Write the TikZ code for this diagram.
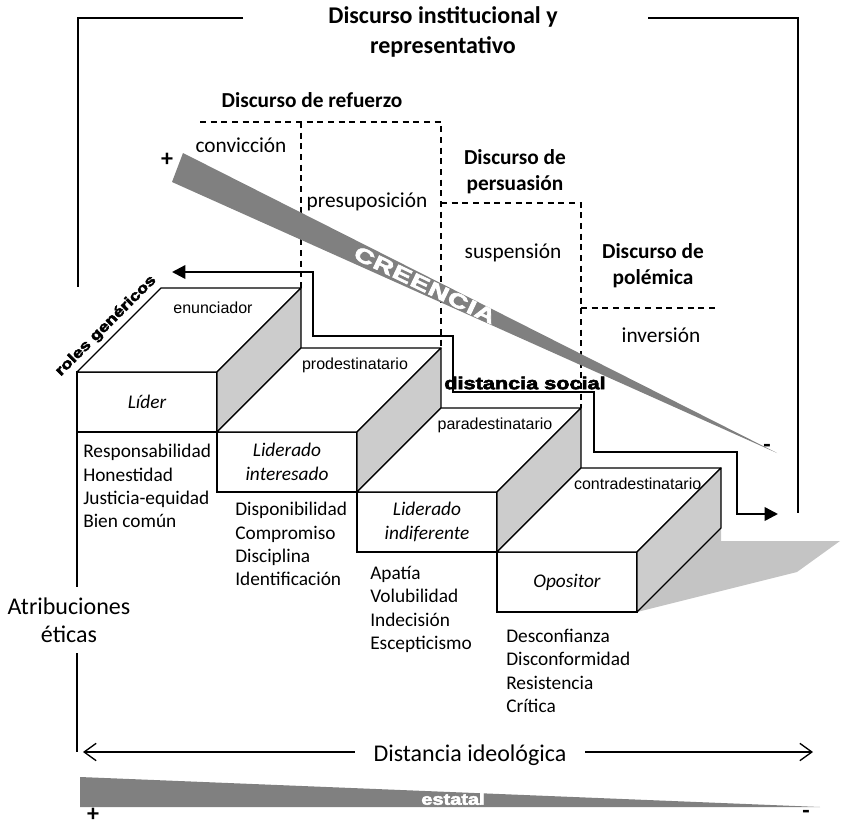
\documentclass[tikz,border=0pt]{standalone}
\usepackage{fontspec}
\setmainfont{Carlito}
\newfontfamily\arialfont{Liberation Sans}
\newfontfamily\blackfont{Liberation Sans}[BoldFeatures={FakeBold=3}]
\usepackage{graphicx}
\usetikzlibrary{arrows.meta, positioning}
\definecolor{sidegray}{gray}{0.8}
\definecolor{wedgegray}{gray}{0.5}
\definecolor{shadowgray}{gray}{0.77}
\tikzstyle{stepfront} = [rectangle, draw, fill=white, line width=1pt, minimum width=105pt,
  minimum height=45pt, inner sep=0pt, outer sep=0pt, align=center,
  font=\itshape\fontsize{14.5}{17.5}\selectfont]
\tikzstyle{stepline} = [line width=1pt, line join=round]
\tikzstyle{roletag} = [inner sep=0pt, font=\arialfont\fontsize{12}{14}\selectfont]
\tikzstyle{attrlist} = [align=left, anchor=north west, inner sep=0pt,
  font=\fontsize{14.5}{17.5}\selectfont]
\tikzstyle{discurso} = [align=center, font=\bfseries\fontsize{16}{19.5}\selectfont]
\tikzstyle{accion} = [font=\fontsize{16}{19}\selectfont]
\tikzstyle{divline} = [line width=0.9pt, dash pattern=on 4.5pt off 3.5pt]
\tikzstyle{frame} = [line width=2.2pt]
\tikzstyle{route} = [line width=1.8pt, line join=miter,
  {Triangle[length=10pt,width=10pt]}-{Triangle[length=10pt,width=10pt]}]
\tikzstyle{ideo} = [line width=1pt, -{Straight Barb[length=9pt,width=13pt]}]
\tikzstyle{heavy} = [inner sep=0pt, font=\blackfont\bfseries]
\tikzstyle{sign} = [inner sep=0pt, font=\bfseries\fontsize{18}{18}\selectfont]

\begin{document}
\begin{tikzpicture}[x=0.75pt, y=-0.75pt]
    \useasboundingbox (0,0) rectangle (844,826);

    % marco del discurso institucional
    \node[discurso, font=\bfseries\fontsize{18}{22}\selectfont] (titulo) at (443,32) {Discurso institucional y\\representativo};
    \coordinate (fL) at (243,18);
    \coordinate (fLb) at (78,287);
    \coordinate (fR) at (648,18);
    \coordinate (fRb) at (798,513);
    \draw[frame] (fL) -| (fLb);
    \draw[frame] (fR) -| (fRb);

    % escalones
    \node[stepfront] (lider) at (147,402) {Líder};
    \node[stepfront, below right=0pt and 0pt of lider] (interesado) {Liderado\\interesado};
    \node[stepfront, below right=0pt and 0pt of interesado] (indiferente) {Liderado\\indiferente};
    \node[stepfront, below right=0pt and 0pt of indiferente] (opositor) {Opositor};

    \fill[shadowgray] (opositor.south east) -- ++(84,-84) -- ++(0,13) -- ++(119,0) -- ++(-43,31) -- cycle;

    \draw[stepline, fill=white] (lider.north west) -- ++(84,-84) -- ++(140,0) -- (lider.north east) -- cycle;
    \draw[stepline, fill=sidegray] (lider.north east) -- ++(84,-84) -- ++(0,60) -- (lider.south east) -- cycle;
    \draw[stepline, fill=white] (interesado.north west) -- ++(84,-84) -- ++(140,0) -- (interesado.north east) -- cycle;
    \draw[stepline, fill=sidegray] (interesado.north east) -- ++(84,-84) -- ++(0,60) -- (interesado.south east) -- cycle;
    \draw[stepline, fill=white] (indiferente.north west) -- ++(84,-84) -- ++(140,0) -- (indiferente.north east) -- cycle;
    \draw[stepline, fill=sidegray] (indiferente.north east) -- ++(84,-84) -- ++(0,60) -- (indiferente.south east) -- cycle;
    \draw[stepline, fill=white] (opositor.north west) -- ++(84,-84) -- ++(140,0) -- (opositor.north east) -- cycle;
    \draw[stepline, fill=sidegray] (opositor.north east) -- ++(84,-84) -- ++(0,60) -- (opositor.south east) -- cycle;

    \node[roletag] (enunciador) at ([xshift=49.5pt, yshift=48pt]lider.north) {enunciador};
    \node[roletag] (prodest) at ([xshift=51pt, yshift=50pt]interesado.north) {prodestinatario};
    \node[roletag] (paradest) at ([xshift=51pt, yshift=50pt]indiferente.north) {paradestinatario};
    \node[roletag] (contradest) at ([xshift=53pt, yshift=51pt]opositor.north) {contradestinatario};

    % atribuciones de cada rol
    \node[attrlist] (valores1) at (83,444) {Responsabilidad\\Honestidad\\Justicia-equidad\\Bien común};
    \node[attrlist] (valores2) at (235,502) {Disponibilidad\\Compromiso\\Disciplina\\Identificación};
    \node[attrlist] (valores3) at (370,566) {Apatía\\Volubilidad\\Indecisión\\Escepticismo};
    \node[attrlist] (valores4) at (506,629) {Desconfianza\\Disconformidad\\Resistencia\\Crítica};

    % eje de atribuciones y distancia ideologica
    \node[align=center, inner ysep=8pt, font=\fontsize{18}{21}\selectfont] (atrib) at (69,620) {Atribuciones\\éticas};
    \coordinate (axisB) at (77,752);
    \draw[stepline] (lider.south west) -- (lider.south west |- atrib.north);
    \draw[stepline] (lider.south west |- atrib.south) -- (axisB);

    \node[inner xsep=14pt, font=\fontsize{18}{21}\selectfont] (distideo) at (470,755) {Distancia ideológica};
    \coordinate (idL) at (83,752);
    \coordinate (idR) at (813,752);
    \draw[ideo] (distideo.west |- idL) -- (idL);
    \draw[ideo] (distideo.east |- idR) -- (idR);

    \fill[wedgegray] (80,777) -- (820,807) -- (80,807) -- cycle;
    \node[heavy, text=white] (estatal) at (453,799) {\scalebox{1.25}[1]{\fontsize{12}{14}\selectfont estatal}};
    \node[sign] (masB) at (93,815) {+};
    \node[sign] (menosB) at (806,814) {-};

    % tipos de discurso
    \node[discurso] (refuerzo) at (312,100) {Discurso de refuerzo};
    \node[discurso] (persuasion) at (515,172) {Discurso de\\persuasión};
    \node[discurso] (polemica) at (653,266) {Discurso de\\polémica};
    \node[accion] (conviccion) at (241,145) {convicción};
    \node[accion] (presuposicion) at (367,202) {presuposición};
    \node[accion] (suspension) at (513,253) {suspensión};
    \node[accion] (inversion) at (661,335) {inversión};

    \coordinate (b1) at ([shift={(84,-84)}]lider.north east);
    \coordinate (b2) at ([shift={(84,-84)}]interesado.north east);
    \coordinate (b3) at ([shift={(84,-84)}]indiferente.north east);
    \draw[divline] (200,122) -- (b2 |- 200,122) -- (b2);
    \draw[divline] (b1 |- 200,122) -- (b1);
    \draw[divline] (b2 |- 0,203) -- (b3 |- 0,203) -- (b3);
    \draw[divline] (b3 |- 0,308) -- (718,308);

    % creencia
    \coordinate (crA) at (183,153);
    \coordinate (crB) at (172,182);
    \coordinate (crTip) at (777,453);
    \fill[wedgegray] (crA) -- (crTip) -- (crB) -- cycle;
    \node[heavy, text=white, rotate=-25.5] (creencia) at (425,285) {\scalebox{1.4}[1]{\fontsize{15}{15}\selectfont\addfontfeature{LetterSpace=4}CREENCIA}};
    \node[sign] (masA) at (167,160) {+};
    \node[sign] (menosA) at (767,448) {-};

    % roles genericos y distancia social
    \node[heavy, rotate=45] (roles) at (106,326) {\scalebox{1.25}[1]{\fontsize{11}{12}\selectfont roles genéricos}};
    \coordinate (rL) at (172,272);
    \coordinate (s1) at (313,336);
    \coordinate (s2) at (453,392);
    \coordinate (s3) at (594,452);
    \coordinate (s4) at (737,514);
    \coordinate (rR) at (778,514);
    \draw[route] (rL) -| (s1) -| (s2) -| (s3) -| (s4) -- (rR);
    \node[heavy] (distsocial) at (525,383) {\scalebox{1.25}[1]{\fontsize{13}{14}\selectfont distancia social}};
  \end{tikzpicture}
\end{document}
